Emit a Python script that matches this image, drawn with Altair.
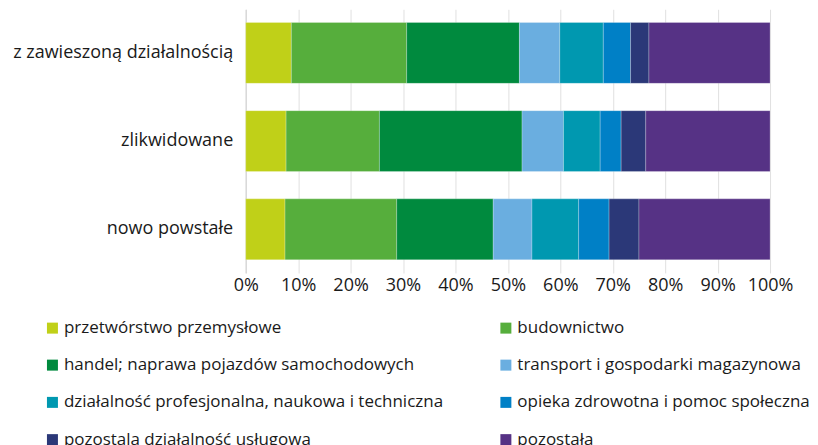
import altair as alt
import pandas as pd

groups = ["z zawieszoną działalnością", "zlikwidowane", "nowo powstałe"]
sections = [
    "przetwórstwo przemysłowe",
    "budownictwo",
    "handel; naprawa pojazdów samochodowych",
    "transport i gospodarki magazynowa",
    "działalność profesjonalna, naukowa i techniczna",
    "opieka zdrowotna i pomoc społeczna",
    "pozostala działalność usługowa",
    "pozostała",
]
colors = ["#c0d018", "#56ae3c", "#008a3e", "#6aaee0", "#0098b0", "#0080c6", "#2b3878", "#563285"]

v_zawieszone = [8.7, 22.0, 21.5, 7.7, 8.3, 5.2, 3.5, 23.1]
v_zlikwidowane = [7.7, 17.8, 27.2, 7.9, 7.0, 4.0, 4.7, 23.7]
v_nowe = [7.5, 21.3, 18.4, 7.4, 8.9, 5.8, 5.7, 25.0]

rows = []
for g, vals in zip(groups, [v_zawieszone, v_zlikwidowane, v_nowe]):
    for i, (s, v) in enumerate(zip(sections, vals)):
        rows.append({"grupa": g, "sekcja": s, "wartosc": v, "idx": i})
df = pd.DataFrame(rows)

FONT = "Open Sans"
FS = 18
LFS = 17

chart = alt.Chart(df).mark_bar(stroke="white", strokeWidth=0.6, strokeOpacity=0.4).encode(
    y=alt.Y("grupa:N", sort=groups, title=None,
            scale=alt.Scale(paddingInner=0.31, paddingOuter=0.15),
            axis=alt.Axis(ticks=False, domain=True, domainColor="#d0d0d0", labelPadding=13,
                          labelFontSize=FS, labelFont=FONT, labelColor="#1a1a1a", labelLimit=400)),
    x=alt.X("wartosc:Q", stack="normalize", title=None,
            scale=alt.Scale(domain=[0, 1], nice=False),
            axis=alt.Axis(format=".0%", values=[i / 10 for i in range(11)], domain=False, ticks=False,
                          grid=True, gridColor="#e0e0e0", labelPadding=4, labelOverlap=False,
                          labelFlush=False,
                          labelFontSize=FS, labelFont=FONT, labelColor="#1a1a1a")),
    color=alt.Color("sekcja:N", sort=sections,
                    scale=alt.Scale(domain=sections, range=colors),
                    legend=alt.Legend(title=None, orient="none", legendX=-202, legendY=310.5,
                                      columns=2, direction="horizontal", symbolType="square",
                                      symbolSize=121, symbolStrokeWidth=0, symbolOpacity=1,
                                      labelFontSize=LFS, labelFont=FONT, labelColor="#1a1a1a",
                                      labelOffset=3, rowPadding=19.3, columnPadding=54, labelLimit=600)),
    order=alt.Order("idx:Q"),
).properties(
    width=525, height=264,
    autosize=alt.AutoSizeParams(type="none"),
    padding={"left": 238, "top": 1, "right": 40, "bottom": 172},
).configure_view(stroke=None)

chart.save("out.html", embed_options={"renderer": "svg", "actions": False})
